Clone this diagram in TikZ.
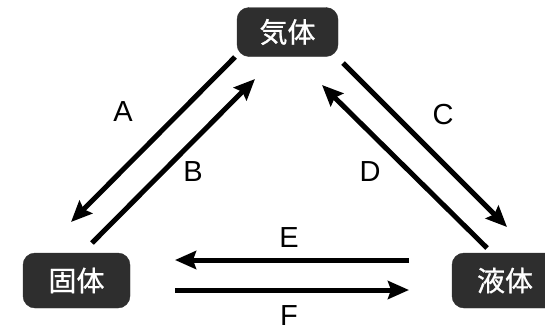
\documentclass[tikz,border=0pt]{standalone}
\usepackage{fontspec}
\setmainfont{Liberation Sans}
\newfontfamily\jp[FakeBold=0.8]{Noto Sans CJK JP}
\usetikzlibrary{arrows.meta}
\definecolor{boxfill}{HTML}{2E2E2E}
\tikzset{
  phase/.style={draw=boxfill, fill=boxfill, rounded corners=12pt, text=white,
    font=\jp\fontsize{28}{30}\selectfont, inner sep=0pt,
    minimum width=104pt, minimum height=50pt},
  conv/.style={line width=5pt, -{Stealth[length=21pt,width=18pt,inset=3pt]}},
  lbl/.style={font=\fontsize{29}{31}\selectfont, inner sep=0pt}
}
\begin{document}
\begin{tikzpicture}[x=1pt,y=-1pt]
\useasboundingbox (0,0) rectangle (545,333);
\begin{scope}
\clip (0,0) rectangle (545,333);
\node[phase, minimum width=101pt, minimum height=49pt] (gas) at (287.5,32) {気体};
\node[phase, minimum width=107pt, minimum height=55pt] (solid) at (76.5,280.5) {固体};
\node[phase, minimum width=106pt, minimum height=55pt, text width=100pt, align=left] (liquid) at (505,280.5) {\hspace{22pt}液体};
\end{scope}
% endpoints
\coordinate (a1) at (235,57);  \coordinate (a2) at (71,222);
\coordinate (b1) at (92,243);  \coordinate (b2) at (255,79);
\coordinate (c1) at (343,63);  \coordinate (c2) at (507,227);
\coordinate (d1) at (487,248); \coordinate (d2) at (322,85);
\coordinate (e1) at (409,260); \coordinate (e2) at (175,260);
\coordinate (f1) at (175,290); \coordinate (f2) at (409,290);
\draw[conv] (a1) -- (a2);
\draw[conv] (b1) -- (b2);
\draw[conv] (c1) -- (c2);
\draw[conv] (d1) -- (d2);
\draw[conv] (e1) -- (e2);
\draw[conv] (f1) -- (f2);
\node[lbl] (la) at (123,112) {A};
\node[lbl] (lb) at (193,172) {B};
\node[lbl] (lc) at (443,115) {C};
\node[lbl] (ld) at (370,172) {D};
\node[lbl] (le) at (289,238) {E};
\node[lbl] (lf) at (289,316) {F};
\end{tikzpicture}
\end{document}
